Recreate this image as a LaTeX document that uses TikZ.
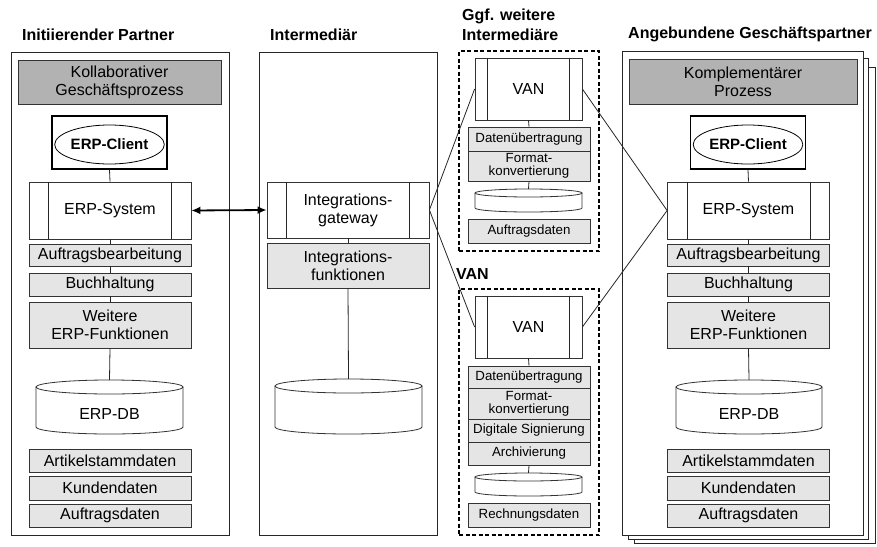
\documentclass[tikz,border=0pt]{standalone}
\usepackage{fontspec}
\setmainfont{Liberation Sans}
\usetikzlibrary{arrows.meta,shapes.geometric,calc}
\tikzset{
 base/.style={draw=black!80, line width=0.8pt, inner sep=0pt, align=center, font=\fontsize{16}{18}\selectfont},
 frame/.style={draw=black!85, line width=0.8pt, fill=white, inner sep=0pt},
 header/.style={base, fill=black!30},
 func/.style={base, fill=black!10},
 small/.style={font=\fontsize{13.3}{13}\selectfont},
 sysbox/.style={base, fill=white},
 clientbox/.style={draw=black, line width=1.8pt, fill=white, inner sep=0pt},
 clientell/.style={ellipse, draw=black, line width=0.8pt, inner sep=0pt, font=\bfseries\fontsize{15}{18}\selectfont},
 title/.style={anchor=west, inner sep=0pt, align=left, font=\bfseries\fontsize{16}{18}\selectfont},
 link/.style={draw=black!85, line width=0.8pt},
 vanframe/.style={draw=black, line width=1.6pt, dash pattern=on 4pt off 2.5pt, inner sep=0pt},
 bidir/.style={line width=1.8pt, {Latex[length=9pt,width=8pt]}-{Latex[length=9pt,width=8pt]}},
 dblabel/.style={inner sep=0pt, font=\fontsize{16}{18}\selectfont},
}
\newcommand\mycyl[6]{%
 \path[draw=black!80, line width=0.8pt, fill=white] ({#2-#5},#3) -- ({#2-#5},#4)
   .. controls ({#2-#5},{#4+0.5523*#6}) and ({#2-0.5523*#5},{#4+#6}) .. (#2,{#4+#6})
   .. controls ({#2+0.5523*#5},{#4+#6}) and ({#2+#5},{#4+0.5523*#6}) .. ({#2+#5},#4)
   -- ({#2+#5},#3);
 \draw[draw=black!80, line width=0.8pt, fill=white] (#2,#3) ellipse [x radius=#5, y radius=#6];
 \node[inner sep=0pt, minimum width={2*#5}, minimum height={#4-#3+2*#6}] (#1) at (#2,{(#3+#4)/2}) {};
}
\newcommand\sidebars[2]{%
 \draw[link] ([xshift=#2]#1.north west) -- ([xshift=#2]#1.south west);
 \draw[link] ([xshift=-#2]#1.north east) -- ([xshift=-#2]#1.south east);
}
\begin{document}
\begin{tikzpicture}[x=1pt,y=-1pt]
\useasboundingbox (0,0) rectangle (877,546);

% ---------------- left column
\node[title] (tL) at (22,35) {Initiierender Partner};
\node[frame, minimum width=218, minimum height=483] (outerL) at (120,293.5) {};
\node[header, minimum width=203, minimum height=44] (kollab) at (119.5,82) {Kollaborativer\\Geschäftsprozess};
\node[clientbox, minimum width=115, minimum height=53] (clboxL) at (109.5,142.5) {};
\node[clientell, minimum width=101, minimum height=39] (clL) at (109.5,144.5) {ERP-Client};
\node[sysbox, minimum width=162, minimum height=57] (sysL) at (110,210.5) {ERP-System};
\sidebars{sysL}{20}
\node[func, minimum width=162, minimum height=22] (aufbL) at (110,255) {Auftragsbearbeitung};
\node[func, minimum width=162, minimum height=23] (buchL) at (110,284.5) {Buchhaltung};
\node[func, minimum width=162, minimum height=46] (weitL) at (110,325) {Weitere\\ERP-Funktionen};
\mycyl{dbL}{109.5}{387}{427}{73.5}{7}
\node[dblabel] (dbLt) at (109.5,414) {ERP-DB};
\node[func, minimum width=162, minimum height=23] (artL) at (110,460.5) {Artikelstammdaten};
\node[func, minimum width=162, minimum height=24] (kundL) at (110,488) {Kundendaten};
\node[func, minimum width=162, minimum height=23] (auftdL) at (110,515.5) {Auftragsdaten};
\draw[link] (clboxL.south) -- (sysL.north);
\draw[link] (sysL.south) -- (aufbL.north);
\draw[link] (aufbL.south) -- (buchL.north);
\draw[link] (buchL.south) -- (weitL.north);
\draw[link] (weitL.south) -- (dbL.north);

% ---------------- middle column
\node[title] (tM) at (270,35) {Intermediär};
\node[frame, minimum width=178, minimum height=483] (outerM) at (348,293.5) {};
\node[sysbox, minimum width=162, minimum height=56] (gate) at (348,210) {Integrations-\\gateway};
\sidebars{gate}{20}
\node[func, minimum width=162, minimum height=45] (intf) at (348,265.5) {Integrations-\\funktionen};
\mycyl{dbM}{348.5}{386}{427}{73.5}{7}
\draw[link] (gate.south) -- (intf.north);
\draw[link] (intf.south) -- (dbM.north);

% ---------------- upper VAN
\node[title, font=\bfseries\fontsize{16}{20}\selectfont] (tU) at (462,25) {Ggf. weitere\\Intermediäre};
\node[vanframe, minimum width=140, minimum height=200] (dashU) at (529,151) {};
\node[sysbox, minimum width=107, minimum height=62] (vanU) at (528.5,89) {VAN};
\sidebars{vanU}{13}
\node[func, small, minimum width=122, minimum height=24] (datU) at (529,139) {Datenübertragung};
\node[func, small, minimum width=122, minimum height=30] (formU) at (529,166) {Format-\\konvertierung};
\mycyl{cylU}{528.5}{193}{208}{53.5}{4}
\node[func, small, minimum width=122, minimum height=24] (auftU) at (529,231) {Auftragsdaten};
\draw[link] (vanU.south) -- (datU.north);
\draw[link] (formU.south) -- (cylU.north);

% ---------------- lower VAN
\node[title] (tD) at (456,274) {VAN};
\node[vanframe, minimum width=140, minimum height=246] (dashD) at (529,412) {};
\node[sysbox, minimum width=107, minimum height=62] (vanD) at (528.5,327) {VAN};
\sidebars{vanD}{13}
\node[func, small, minimum width=122, minimum height=22] (datD) at (529,377) {Datenübertragung};
\node[func, small, minimum width=122, minimum height=31] (formD) at (529,403.5) {Format-\\konvertierung};
\node[func, small, minimum width=122, minimum height=23] (digD) at (529,430.5) {Digitale Signierung};
\node[func, small, minimum width=122, minimum height=23] (archD) at (529,453.5) {Archivierung};
\mycyl{cylD}{528.5}{477}{492}{53.5}{4}
\node[func, small, minimum width=122, minimum height=24] (rechD) at (529,515) {Rechnungsdaten};
\draw[link] (vanD.south) -- (datD.north);
\draw[link] (archD.south) -- (cylD.north);

% ---------------- right column
\node[title] (tR) at (628,34) {Angebundene Geschäftspartner};
\draw[frame] (634,67) rectangle (875,543);
\draw[frame] (628,58) rectangle (868,539);
\node[frame, minimum width=241, minimum height=484] (outerR) at (742.5,293) {};
\node[header, minimum width=228, minimum height=45] (kompl) at (743,81.5) {Komplementärer\\Prozess};
\node[clientbox, minimum width=115, minimum height=53] (clboxR) at (748,142.5) {};
\node[clientell, minimum width=101, minimum height=39] (clR) at (748,144.5) {ERP-Client};
\node[sysbox, minimum width=162, minimum height=57] (sysR) at (748.5,210.5) {ERP-System};
\sidebars{sysR}{20}
\node[func, minimum width=162, minimum height=22] (aufbR) at (748.5,255) {Auftragsbearbeitung};
\node[func, minimum width=162, minimum height=23] (buchR) at (748.5,284.5) {Buchhaltung};
\node[func, minimum width=162, minimum height=46] (weitR) at (748.5,325) {Weitere\\ERP-Funktionen};
\mycyl{dbR}{749}{387}{427}{73}{7}
\node[dblabel] (dbRt) at (749,414) {ERP-DB};
\node[func, minimum width=162, minimum height=23] (artR) at (748.5,460.5) {Artikelstammdaten};
\node[func, minimum width=162, minimum height=24] (kundR) at (748.5,488) {Kundendaten};
\node[func, minimum width=162, minimum height=23] (auftdR) at (748.5,515.5) {Auftragsdaten};
\draw[link] (clboxR.south) -- (sysR.north);
\draw[link] (sysR.south) -- (aufbR.north);
\draw[link] (aufbR.south) -- (buchR.north);
\draw[link] (buchR.south) -- (weitR.north);
\draw[link] (weitR.south) -- (dbR.north);

% ---------------- connectors between columns
\draw[bidir] (sysL.east) -- (gate.west);
\draw[link] (gate.east) -- (vanU.west);
\draw[link] (gate.east) -- (vanD.west);
\draw[link] (vanU.east) -- (sysR.west);
\draw[link] (vanD.east) -- (sysR.west);
\end{tikzpicture}
\end{document}
